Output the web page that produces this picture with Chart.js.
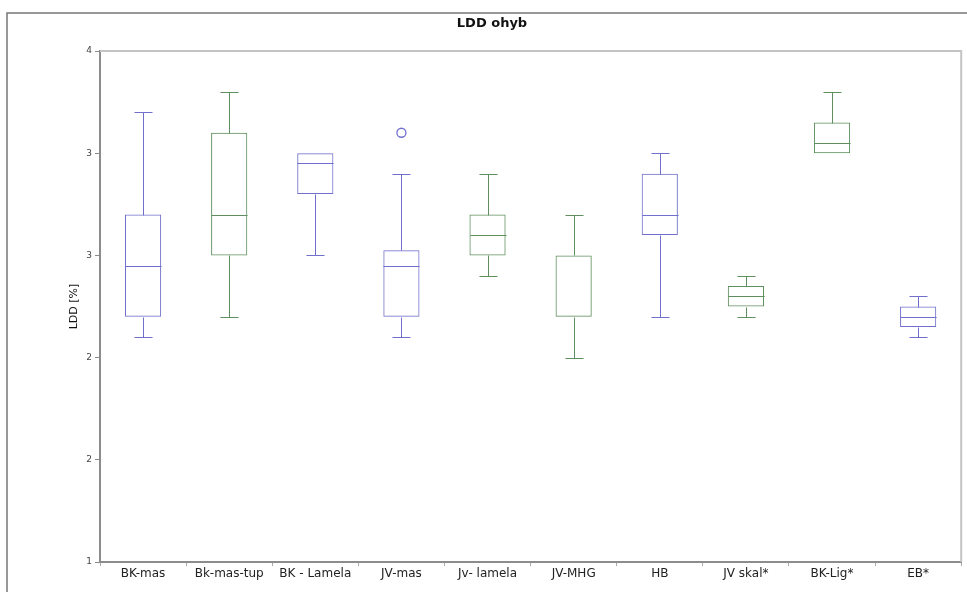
<!DOCTYPE html>
<html>
<head>
<meta charset="utf-8">
<script src="https://cdn.jsdelivr.net/npm/chart.js@4"></script>
<style>
  html, body { margin: 0; padding: 0; background: #fff; }
  canvas { display: block; }
</style>
</head>
<body>
<canvas id="chart" width="967" height="592"></canvas>
<script>
// box plot values
const labels = ['BK-mas', 'Bk-mas-tup', 'BK - Lamela', 'JV-mas', 'Jv- lamela', 'JV-MHG', 'HB', 'JV skal*', 'BK-Lig*', 'EB*'];
const whiskerLow  = [2.6, 2.7, 3.0, 2.6, 2.9, 2.5, 2.7, 2.7, 3.5, 2.6];
const q1          = [2.7, 3.0, 3.3, 2.7, 3.0, 2.7, 3.1, 2.75, 3.5, 2.65];
const median      = [2.95, 3.2, 3.45, 2.95, 3.1, 2.7, 3.2, 2.8, 3.55, 2.7];
const q3          = [3.2, 3.6, 3.5, 3.025, 3.2, 3.0, 3.4, 2.85, 3.65, 2.75];
const whiskerHigh = [3.7, 3.8, 3.5, 3.4, 3.4, 3.2, 3.5, 2.9, 3.8, 2.8];
const outliers    = [null, null, null, 3.6, null, null, null, null, null, null];
const yTicks = { min: 1.5, max: 4, step: 0.5 };

const BLUE = '#7070cc';
const GREEN = '#5f8f5f';
const boxColors = [BLUE, GREEN, BLUE, BLUE, GREEN, GREEN, BLUE, GREEN, GREEN, BLUE];
const FONT = 'DejaVu Sans';

// whiskers, caps and medians, placed with the chart's own scales
const boxExtras = {
  id: 'boxExtras',
  afterDatasetsDraw(chart) {
    const ctx = chart.ctx;
    const x = chart.scales.x, y = chart.scales.y;
    const bars = chart.getDatasetMeta(0).data;
    ctx.save();
    ctx.lineWidth = 1;
    labels.forEach((_, i) => {
      const cx = Math.round(x.getPixelForValue(i)) + 0.5;
      const half = bars[i].width / 2;
      const cap = half / 2;
      const px = v => Math.round(y.getPixelForValue(v)) + 0.5;
      ctx.strokeStyle = boxColors[i];
      ctx.beginPath();
      if (whiskerHigh[i] > q3[i]) {
        ctx.moveTo(cx, px(q3[i])); ctx.lineTo(cx, px(whiskerHigh[i]));
        ctx.moveTo(cx - cap, px(whiskerHigh[i])); ctx.lineTo(cx + cap, px(whiskerHigh[i]));
      }
      if (whiskerLow[i] < q1[i]) {
        ctx.moveTo(cx, px(q1[i])); ctx.lineTo(cx, px(whiskerLow[i]));
        ctx.moveTo(cx - cap, px(whiskerLow[i])); ctx.lineTo(cx + cap, px(whiskerLow[i]));
      }
      if (median[i] > q1[i] && median[i] < q3[i]) {
        ctx.moveTo(cx - half, px(median[i])); ctx.lineTo(cx + half, px(median[i]));
      }
      ctx.stroke();
    });
    ctx.restore();
  }
};

// frame, title and y axis label
const decor = {
  id: 'decor',
  beforeDraw(chart) {
    const ctx = chart.ctx;
    ctx.save();
    ctx.fillStyle = '#fff';
    ctx.fillRect(0, 0, chart.width, chart.height);
    ctx.strokeStyle = '#777';
    ctx.lineWidth = 1.5;
    ctx.beginPath();
    ctx.moveTo(7, chart.height); ctx.lineTo(7, 13); ctx.lineTo(chart.width, 13);
    ctx.stroke();
    ctx.restore();
  },
  afterDraw(chart) {
    const ctx = chart.ctx;
    const a = chart.chartArea;
    ctx.save();
    ctx.strokeStyle = '#c4c4c4';
    ctx.lineWidth = 2;
    ctx.beginPath();
    ctx.moveTo(a.left, a.top); ctx.lineTo(a.right, a.top); ctx.lineTo(a.right, a.bottom);
    ctx.stroke();

    ctx.fillStyle = '#111';
    ctx.font = 'bold 13px "' + FONT + '"';
    ctx.textAlign = 'center';
    ctx.textBaseline = 'middle';
    ctx.fillText('LDD ohyb', 492, 24);

    ctx.font = '11px "' + FONT + '"';
    ctx.translate(74, (a.top + a.bottom) / 2);
    ctx.rotate(-Math.PI / 2);
    ctx.fillText('LDD [%]', 0, 0);
    ctx.restore();
  }
};

new Chart(document.getElementById('chart'), {
  type: 'bar',
  data: {
    labels: labels,
    datasets: [{
      label: 'box',
      data: labels.map((_, i) => [q1[i], q3[i]]),
      backgroundColor: 'rgba(255,255,255,0)',
      borderColor: boxColors,
      borderWidth: 1,
      borderSkipped: false,
      categoryPercentage: 1,
      barPercentage: 0.42
    }, {
      type: 'line',
      label: 'outliers',
      data: outliers,
      showLine: false,
      pointStyle: 'circle',
      pointRadius: 4.5,
      pointBorderWidth: 1.3,
      pointBorderColor: boxColors,
      pointBackgroundColor: '#fff'
    }]
  },
  options: {
    responsive: false,
    animation: false,
    layout: { padding: { top: 51, right: 4, left: 0, bottom: 0 } },
    plugins: { legend: { display: false }, tooltip: { enabled: false }, title: { display: false } },
    scales: {
      x: {
        afterFit: s => { s.height = 30; },
        grid: { offset: true, drawOnChartArea: false, tickLength: 4, color: '#aaa' },
        border: { color: '#8c8c8c', width: 2 },
        ticks: { color: '#222', font: { family: FONT, size: 12 }, padding: 1, maxRotation: 0 }
      },
      y: {
        min: yTicks.min,
        max: yTicks.max,
        afterFit: s => { s.width = 100; },
        grid: { drawOnChartArea: false, tickLength: 5, color: '#888' },
        border: { color: '#8c8c8c', width: 2 },
        ticks: {
          stepSize: yTicks.step,
          color: '#444',
          font: { family: FONT, size: 9 },
          padding: 3,
          callback: v => Math.floor(v)
        }
      }
    }
  },
  plugins: [decor, boxExtras]
});
</script>
</body>
</html>
